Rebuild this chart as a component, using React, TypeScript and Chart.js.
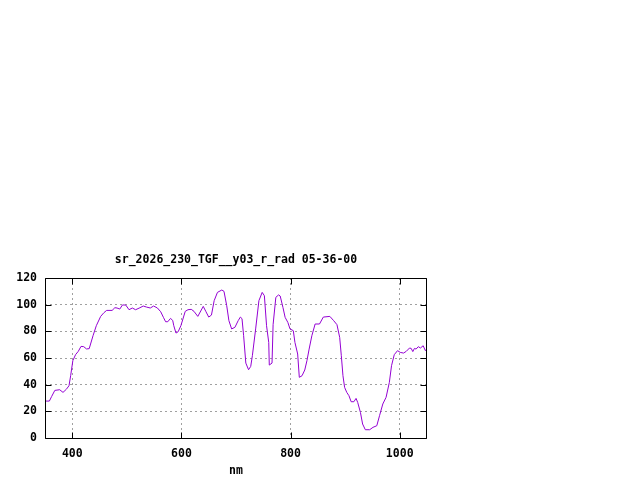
import { useEffect, useRef } from 'react'
import { Chart, registerables } from 'chart.js'

Chart.register(...registerables)

const chartTitle = 'sr_2026_230_TGF__y03_r_rad 05-36-00'
const xLabel = 'nm'

// wavelength (nm) and value
const wavelengths = [
  350, 358, 362, 368, 377, 383, 389, 394, 397, 401, 406, 411, 416, 421, 426, 431,
  438, 444, 452, 458, 463, 473, 478, 482, 487, 492, 498, 504, 510, 516, 524, 530,
  536, 543, 549, 556, 562, 567, 571, 575, 580, 584, 586, 590, 594, 599, 607, 612,
  618, 623, 630, 640, 645, 650, 655, 660, 666, 674, 678, 683, 687, 692, 698, 704,
  708, 711, 714, 718, 723, 727, 730, 736, 742, 748, 752, 756, 760, 761, 766, 768,
  773, 778, 781, 786, 790, 795, 799, 805, 808, 813, 816, 821, 826, 830, 834, 839,
  845, 853, 860, 872, 879, 885, 890, 893, 896, 899, 903, 907, 911, 916, 920, 923,
  928, 932, 937, 945, 951, 958, 963, 969, 975, 981, 985, 990, 996, 1001, 1007, 1012,
  1018, 1021, 1024, 1027, 1030, 1034, 1038, 1043, 1047, 1050,
]
const values = [
  27.7, 27.7, 31, 35.7, 36.2, 34.2, 36.5, 39.2, 46.7, 58, 62.5, 65, 68.7, 68.5, 66.8, 67,
  76.7, 84.2, 91.2, 94, 95.7, 95.7, 97.7, 97.5, 96.7, 99.8, 99.7, 96.2, 97.5, 96.2, 97.7, 99,
  98.2, 97.5, 99, 97.5, 94.7, 90.5, 87.2, 87.2, 89.7, 88.2, 84.2, 78.7, 79.7, 84.2, 95, 96.2,
  96.5, 95, 91.2, 98.7, 94.7, 90.7, 92.2, 103, 109.2, 111, 110, 99.2, 88, 81.8, 83, 88,
  90.7, 89.5, 76.7, 56.2, 51.2, 53.7, 61.7, 81.8, 103, 109.2, 106.7, 84.2, 71.7, 54.7, 56.2, 85,
  105.5, 107.3, 106.5, 98, 90.5, 86.7, 81.8, 80.5, 71.7, 63, 45.5, 46.7, 51, 58, 66.7, 76.7,
  85.5, 85.5, 90.7, 91.2, 88, 85, 75.5, 61.7, 46.7, 38, 34.2, 31.7, 27.2, 27.2, 29.7, 26.7,
  19.2, 10.5, 6.2, 6.2, 8, 9.2, 16.7, 25.5, 30.5, 41.7, 54.2, 62.5, 65.5, 64.2, 63.7, 65,
  67.5, 67.2, 64.8, 67.2, 66.7, 68.5, 67.5, 69.2, 65.5, 67,
]

const xTicks = [400, 600, 800, 1000]
const yTicks = [0, 20, 40, 60, 80, 100, 120]

const font = { family: "'DejaVu Sans Mono', monospace", size: 11.5, weight: 'bold' as const }

// gnuplot style box with short inward ticks on all four sides
const framePlugin = {
  id: 'frame',
  afterDraw(chart: any) {
    const { ctx, chartArea: a, scales } = chart
    const left = Math.round(a.left) + 0.5
    const right = Math.round(a.right) - 0.5
    const top = Math.round(a.top) + 0.5
    const bottom = Math.round(a.bottom) + 0.5
    ctx.save()
    ctx.strokeStyle = '#000'
    ctx.lineWidth = 1
    ctx.beginPath()
    ctx.rect(left, top, right - left, bottom - top)
    for (const v of xTicks) {
      const x = Math.round(scales.x.getPixelForValue(v)) + 0.5
      ctx.moveTo(x, bottom)
      ctx.lineTo(x, bottom - 6)
      ctx.moveTo(x, top)
      ctx.lineTo(x, top + 6)
    }
    for (const v of yTicks) {
      const y = Math.round(scales.y.getPixelForValue(v)) + 0.5
      ctx.moveTo(left, y)
      ctx.lineTo(left + 6, y)
      ctx.moveTo(right, y)
      ctx.lineTo(right - 6, y)
    }
    ctx.stroke()
    ctx.restore()
  },
}

function SpectrumChart() {
  const ref = useRef<HTMLCanvasElement>(null)

  useEffect(() => {
    document.body.style.margin = '0'
    if (!ref.current) return

    const chart = new Chart(ref.current, {
      type: 'line',
      data: {
        datasets: [
          {
            data: wavelengths.map((x, i) => ({ x, y: values[i] })),
            borderColor: '#9400d3',
            borderWidth: 1,
            pointRadius: 0,
            tension: 0,
          },
        ],
      },
      options: {
        animation: false,
        responsive: false,
        devicePixelRatio: 1,
        layout: { padding: { top: 253, right: 213, left: 0, bottom: 0 } },
        scales: {
          x: {
            type: 'linear',
            min: 350,
            max: 1050,
            afterBuildTicks: (scale: any) => {
              scale.ticks = xTicks.map((value) => ({ value }))
            },
            afterFit: (scale: any) => {
              scale.height = 42
            },
            grid: { color: '#a0a0a0', lineWidth: 1, drawTicks: false },
            border: { display: false, dash: [2, 3] },
            ticks: { color: '#000', font, padding: 9, maxRotation: 0, callback: (v: any) => String(v) },
            title: { display: true, text: xLabel, color: '#000', font, padding: { top: 0, bottom: 2 } },
          },
          y: {
            min: 0,
            max: 120,
            afterBuildTicks: (scale: any) => {
              scale.ticks = yTicks.map((value) => ({ value }))
            },
            afterFit: (scale: any) => {
              scale.width = 45
            },
            grid: { color: '#a0a0a0', lineWidth: 1, drawTicks: false },
            border: { display: false, dash: [2, 3] },
            ticks: { color: '#000', font, padding: 8, callback: (v: any) => String(v) },
          },
        },
        plugins: {
          legend: { display: false },
          tooltip: { enabled: false },
          title: {
            display: true,
            text: chartTitle,
            color: '#000',
            font: { ...font, lineHeight: '14px' },
            fullSize: false,
            padding: { top: 0, bottom: 11 },
          },
        },
      },
      plugins: [framePlugin],
    })

    return () => chart.destroy()
  }, [])

  return <canvas ref={ref} width={640} height={480} style={{ display: 'block' }}></canvas>
}

export default function App() {
  return <SpectrumChart />
}
